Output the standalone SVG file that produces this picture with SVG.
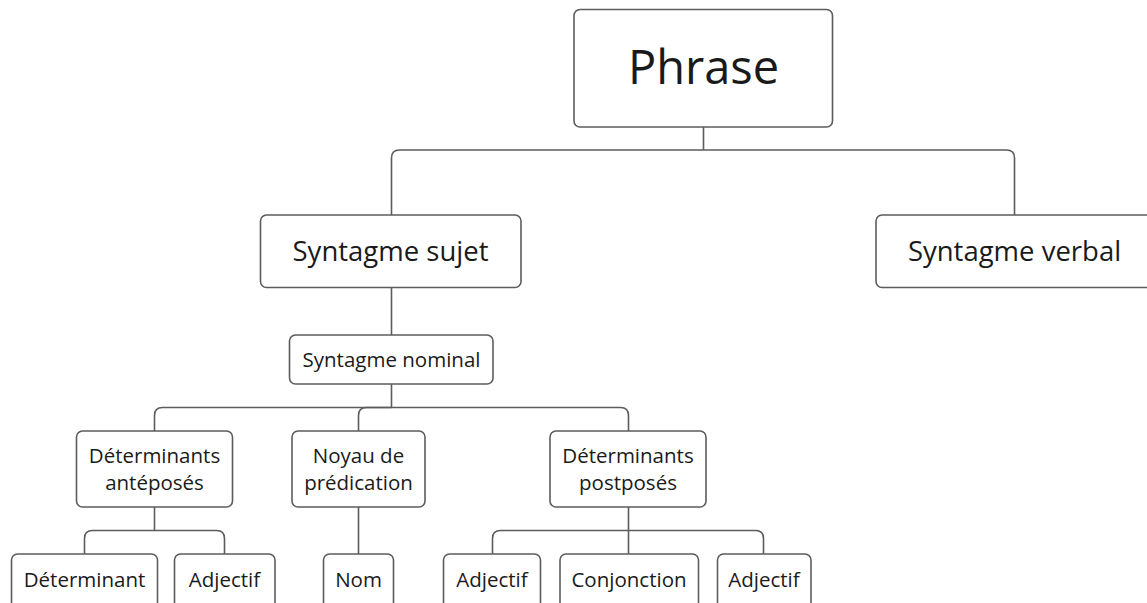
<svg xmlns="http://www.w3.org/2000/svg" width="1147" height="603" viewBox="0 0 1147 603">
<style>
.box{fill:#fff;stroke:#5c5c5c;stroke-width:1.6}
.conn{fill:none;stroke:#5c5c5c;stroke-width:1.6}
text{font-family:"Open Sans","Noto Sans","Liberation Sans",sans-serif;fill:#1a1a1a;text-anchor:middle}
.big{font-size:47px}
.mid{font-size:27.5px}
.sm{font-size:20.5px}
</style>
<rect width="1147" height="603" fill="#fff"/>
<g id="connectors">
<path class="conn" d="M703.5,127 V150"/>
<path class="conn" d="M391.5,215 V158 Q391.5,150 399.5,150 H1006.5 Q1014.5,150 1014.5,158 V215"/>
<path class="conn" d="M391.5,287 V335"/>
<path class="conn" d="M391.5,384 V407.5"/>
<path class="conn" d="M154.5,431 V415.5 Q154.5,407.5 162.5,407.5 H620.5 Q628.5,407.5 628.5,415.5 V431"/>
<path class="conn" d="M391.5,407.5 H366.5 Q358.5,407.5 358.5,415.5 V431"/>
<path class="conn" d="M154.5,507 V530.5"/>
<path class="conn" d="M84.5,554 V538.5 Q84.5,530.5 92.5,530.5 H216.5 Q224.5,530.5 224.5,538.5 V554"/>
<path class="conn" d="M358.5,507 V554"/>
<path class="conn" d="M628.5,507 V554"/>
<path class="conn" d="M492.5,554 V538.5 Q492.5,530.5 500.5,530.5 H755.5 Q763.5,530.5 763.5,538.5 V554"/>
</g>
<g id="phrase"><rect class="box" x="574" y="9.5" width="258.5" height="117.5" rx="6"/><text class="big" x="703.5" y="84">Phrase</text></g>
<g id="syntagme-sujet"><rect class="box" x="260.5" y="215" width="260.5" height="72.5" rx="6"/><text class="mid" x="390.5" y="261">Syntagme sujet</text></g>
<g id="syntagme-verbal"><rect class="box" x="876" y="215" width="280" height="72.5" rx="6"/><text class="mid" x="1014.5" y="261">Syntagme verbal</text></g>
<g id="syntagme-nominal"><rect class="box" x="289.5" y="335" width="203.5" height="49" rx="6"/><text class="sm" x="391.5" y="367">Syntagme nominal</text></g>
<g id="determinants-anteposes"><rect class="box" x="76.5" y="431" width="156" height="76" rx="6"/><text class="sm" x="154.5" y="463">Déterminants</text><text class="sm" x="154.5" y="490">antéposés</text></g>
<g id="noyau"><rect class="box" x="292" y="431" width="133" height="76" rx="6"/><text class="sm" x="358.5" y="463">Noyau de</text><text class="sm" x="358.5" y="490">prédication</text></g>
<g id="determinants-postposes"><rect class="box" x="550" y="431" width="156" height="76" rx="6"/><text class="sm" x="628" y="463">Déterminants</text><text class="sm" x="628" y="490">postposés</text></g>
<g id="determinant"><rect class="box" x="11.5" y="554" width="146" height="60" rx="6"/><text class="sm" x="84.5" y="586.5">Déterminant</text></g>
<g id="adjectif-1"><rect class="box" x="174.5" y="554" width="100.5" height="60" rx="6"/><text class="sm" x="224.5" y="586.5">Adjectif</text></g>
<g id="nom"><rect class="box" x="323.5" y="554" width="70" height="60" rx="6"/><text class="sm" x="358.5" y="586.5">Nom</text></g>
<g id="adjectif-2"><rect class="box" x="443.5" y="554" width="97" height="60" rx="6"/><text class="sm" x="492" y="586.5">Adjectif</text></g>
<g id="conjonction"><rect class="box" x="560" y="554" width="138.5" height="60" rx="6"/><text class="sm" x="629" y="586.5">Conjonction</text></g>
<g id="adjectif-3"><rect class="box" x="717.5" y="554" width="93.5" height="60" rx="6"/><text class="sm" x="764" y="586.5">Adjectif</text></g>
</svg>
